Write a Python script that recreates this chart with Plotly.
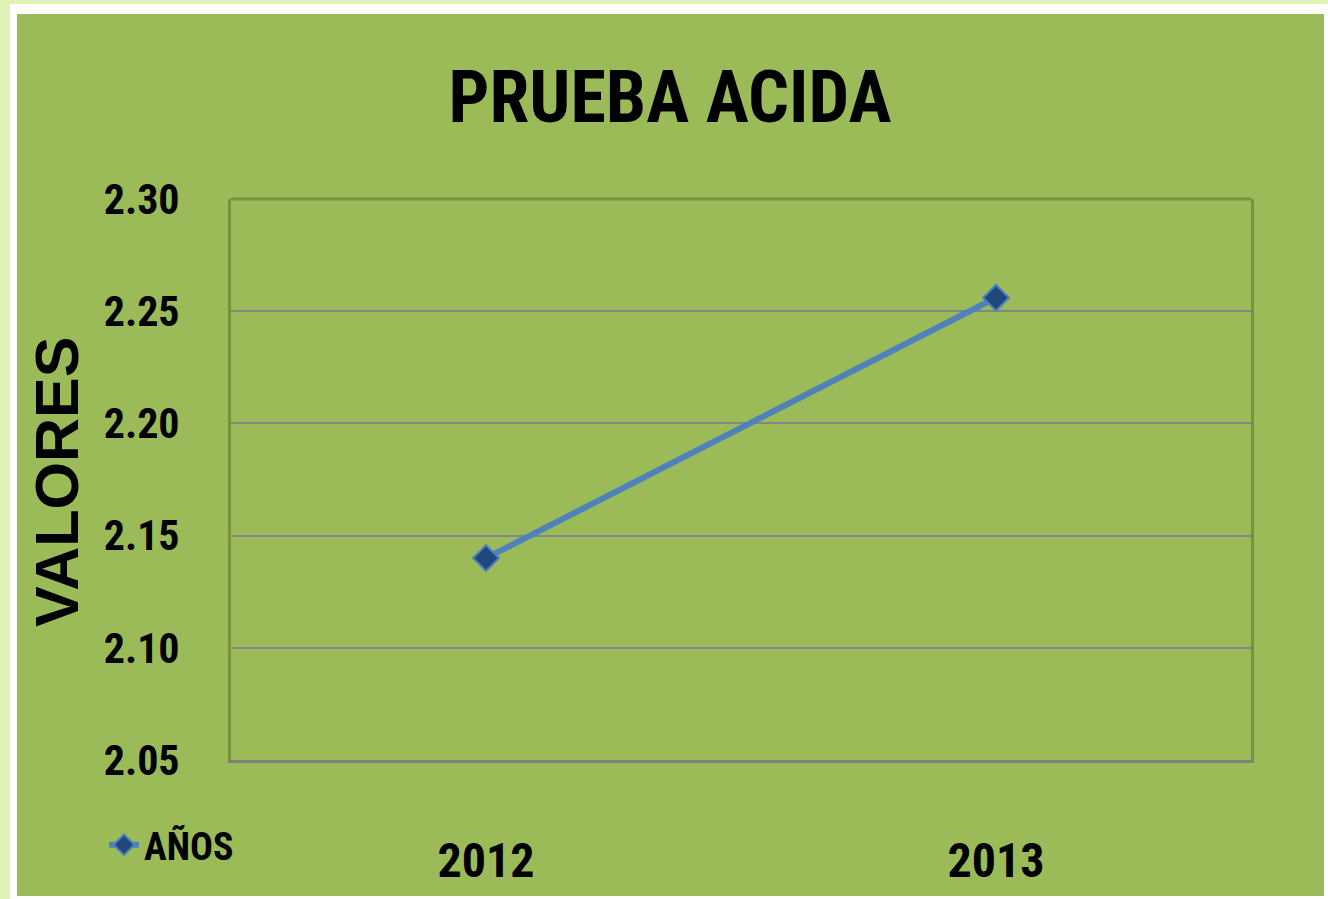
import plotly.graph_objects as go

years = ["2012", "2013"]
valores = [2.14, 2.256]
y_ticks = [2.05, 2.10, 2.15, 2.20, 2.25, 2.30]
y_tick_labels = ["2.05", "2.10", "2.15", "2.20", "2.25", "2.30"]

W, H = 1328, 899
L, R, T, B = 231, 1251, 199, 760

def px(x):
    return (x - L) / (R - L)

def py(y):
    return (B - y) / (B - T)

NARROW = "Liberation Sans Narrow, Arial Narrow, Roboto Condensed, sans-serif"
GREEN = "#9BBB59"
OUTER = "#E0F2B6"

fig = go.Figure()
fig.add_trace(go.Scatter(
    x=years, y=valores, mode="lines+markers", name="AÑOS",
    line=dict(color="#4F81BD", width=6),
    marker=dict(symbol="diamond", size=20, color="#1F497D",
                line=dict(color="#4F81BD", width=2)),
))

fig.update_layout(
    template="none",
    width=W, height=H,
    margin=dict(l=L, r=W - R, t=T, b=H - B, autoexpand=False),
    paper_bgcolor=OUTER,
    plot_bgcolor=GREEN,
    title=dict(text="PRUEBA ACIDA", x=670 / W, xref="container", xanchor="center",
               y=1 - 97 / H, yref="container", yanchor="middle",
               font=dict(family=NARROW, size=72, color="black", weight="bold")),
    showlegend=True,
    legend=dict(xref="container", yref="container",
                x=104 / W, y=1 - 845 / H, xanchor="left", yanchor="middle",
                bgcolor="rgba(0,0,0,0)", borderwidth=0,
                font=dict(family=NARROW, size=38, color="black", weight="bold")),
    xaxis=dict(
        type="category", range=[-0.5, 1.5], automargin=False,
        showline=True, linecolor="#808080", linewidth=3,
        showgrid=False, zeroline=False,
        ticks="outside", ticklen=56, tickcolor="rgba(0,0,0,0)",
        tickfont=dict(family=NARROW, size=48, color="black", weight="bold"),
    ),
    yaxis=dict(
        range=[2.05, 2.30], tickvals=y_ticks, ticktext=y_tick_labels, automargin=False,
        showline=True, linecolor="#77933C", linewidth=3, mirror=True,
        showgrid=True, gridcolor="#868686", gridwidth=2, zeroline=False,
        ticks="outside", ticklen=40, tickcolor="rgba(0,0,0,0)",
        tickfont=dict(family=NARROW, size=42, color="black", weight="bold"),
    ),
    shapes=[
        dict(type="rect", xref="paper", yref="paper", layer="below",
             x0=px(10), x1=px(1328), y0=py(4), y1=py(899),
             fillcolor="white", line=dict(width=0)),
        dict(type="rect", xref="paper", yref="paper", layer="below",
             x0=px(17), x1=px(1324), y0=py(14), y1=py(896),
             fillcolor=GREEN, line=dict(width=0)),
        dict(type="line", xref="paper", yref="paper", layer="above",
             x0=0, x1=1, y0=1, y1=1, line=dict(color="#77933C", width=3)),
    ],
    annotations=[
        dict(text="VALORES", xref="paper", yref="paper", x=px(57), y=py(482),
             xanchor="center", yanchor="middle", textangle=-90, showarrow=False,
             font=dict(family="Liberation Sans, Arial, sans-serif", size=61,
                       color="black", weight="bold")),
    ],
)

fig.write_html(
    "out.html",
    config={"displayModeBar": False},
    post_script="document.body.style.margin='0';document.body.style.overflow='hidden';",
)
